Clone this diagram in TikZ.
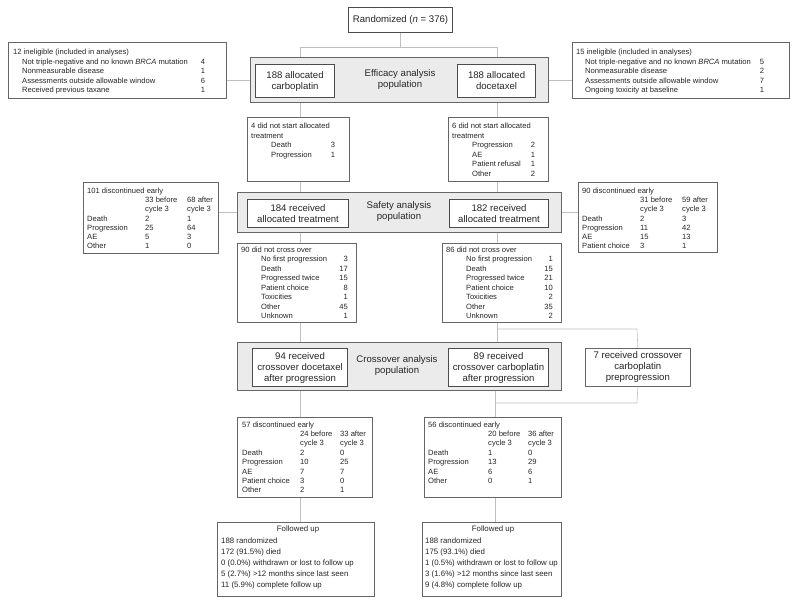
\documentclass[tikz,border=0pt]{standalone}
\usepackage{fontspec}
\setmainfont{Liberation Sans}
\newcommand\fsm{\fontsize{7.6}{9.5}\selectfont}
\newcommand\fbg{\fontsize{9.6}{11}\selectfont}
\newcommand\ffu{\fontsize{7.85}{11}\selectfont}
\newcommand\tl[4]{\node[t,anchor=mid west] (#1) at (#2,#3) {#4};}
\newcommand\tc[4]{\node[t,anchor=mid] (#1) at (#2,#3) {#4};}
\newcommand\tr[4]{\node[t,anchor=mid east] (#1) at (#2,#3) {#4};}
\newcommand\fl[4]{\node[tf,anchor=mid west] (#1) at (#2,#3) {#4};}
\newcommand\fc[4]{\node[tf,anchor=mid] (#1) at (#2,#3) {#4};}
\begin{document}
\begin{tikzpicture}[x=1pt,y=-1pt,
  t/.style={inner sep=0pt, font=\fsm, text=black!85},
  tf/.style={inner sep=0pt, font=\ffu, text=black!85},
  obox/.style={draw=black!60, line width=0.7pt, fill=white, inner sep=0pt, anchor=north west},
  panel/.style={draw=black!60, line width=0.9pt, fill=black!8, inner sep=0pt, anchor=north west},
  ibox/.style={draw=black!70, line width=1.1pt, fill=white, inner sep=0pt, anchor=north west, font=\fbg, align=center, text=black!85},
  ptext/.style={inner sep=0pt, font=\fbg, align=center, text=black!85},
  conn/.style={draw=black!25, line width=0.6pt}]
\useasboundingbox (0,0) rectangle (800,602);
\fill[white] (0,0) rectangle (800,602);

% ---------- boxes ----------
\node[ibox, minimum width=104pt, minimum height=25pt] (rand) at (348,7) {Randomized (\textit{n} = 376)};
\node[obox, minimum width=218pt, minimum height=56pt] (inelL) at (8,42) {};
\node[obox, minimum width=217pt, minimum height=56pt] (inelR) at (572,42) {};
\node[panel, minimum width=298pt, minimum height=45pt] (panE) at (250,57) {};
\node[ibox, minimum width=79pt, minimum height=33pt] (effL) at (255,64) {188 allocated\\carboplatin};
\node[ibox, minimum width=78pt, minimum height=33pt] (effR) at (457,64) {188 allocated\\docetaxel};
\node[ptext] (effT) at (400,79.5) {Efficacy analysis\\population};

\node[obox, minimum width=102pt, minimum height=64pt] (dnsL) at (247,117) {};
\node[obox, minimum width=100pt, minimum height=64pt] (dnsR) at (448,117) {};

\node[panel, minimum width=324pt, minimum height=40pt] (panS) at (237,192) {};
\node[ibox, minimum width=101pt, minimum height=28pt] (safL) at (247,199) {184 received\\allocated treatment};
\node[ibox, minimum width=99pt, minimum height=28pt] (safR) at (449,199) {182 received\\allocated treatment};
\node[ptext] (safT) at (399,212) {Safety analysis\\population};

\node[obox, minimum width=135pt, minimum height=71pt] (discL) at (83,182) {};
\node[obox, minimum width=139pt, minimum height=70pt] (discR) at (578,182) {};

\node[obox, minimum width=119pt, minimum height=79pt] (dncL) at (237,243) {};
\node[obox, minimum width=119pt, minimum height=79pt] (dncR) at (442,243) {};

\node[panel, minimum width=324pt, minimum height=48pt] (panC) at (237,342) {};
\node[ibox, minimum width=95pt, minimum height=38pt] (crL) at (252,348) {94 received\\crossover docetaxel\\after progression};
\node[ibox, minimum width=100pt, minimum height=38pt] (crR) at (448,348) {89 received\\crossover carboplatin\\after progression};
\node[ptext] (crT) at (397,366) {Crossover analysis\\population};
\node[obox, minimum width=105pt, minimum height=38pt, font=\fbg, align=center, text=black!85] (cr7) at (585,348) {7 received crossover\\carboplatin\\preprogression};

\node[obox, minimum width=135pt, minimum height=80pt] (d57) at (237,417) {};
\node[obox, minimum width=137pt, minimum height=80pt] (d56) at (424,417) {};

\node[obox, minimum width=157pt, minimum height=74pt] (fuL) at (217,522) {};
\node[obox, minimum width=139pt, minimum height=74pt] (fuR) at (422,522) {};

% ---------- connectors ----------
\coordinate (jL) at (300,47);
\coordinate (jR) at (497,47);
\coordinate (jB) at (497,329);
\coordinate (jB2) at (637,329);
\coordinate (jC) at (495,403);
\coordinate (jC2) at (637,403);
\draw[conn] (rand.south) -- (rand.south |- jL);
\draw[conn] (jL) -- (jR);
\draw[conn] (jL) -- (jL |- panE.north);
\draw[conn] (jR) -- (jR |- panE.north);
\draw[conn] (inelL.east |- panE.west) -- (panE.west);
\draw[conn] (panE.east) -- (inelR.west |- panE.east);
\draw[conn] (jL |- panE.south) -- (jL |- dnsL.north);
\draw[conn] (jR |- panE.south) -- (jR |- dnsR.north);
\draw[conn] (jL |- dnsL.south) -- (jL |- panS.north);
\draw[conn] (jR |- dnsR.south) -- (jR |- panS.north);
\draw[conn] (discL.east |- panS.west) -- (panS.west);
\draw[conn] (panS.east) -- (discR.west |- panS.east);
\draw[conn] (jL |- panS.south) -- (jL |- dncL.north);
\draw[conn] (jR |- panS.south) -- (jR |- dncR.north);
\draw[conn] (jL |- dncL.south) -- (jL |- panC.north);
\draw[conn] (jR |- dncR.south) -- (jR |- panC.north);
\draw[conn] (jB) -- (jB2) -- (cr7.north);
\draw[conn] (cr7.south) -- (jC2) -- (jC);
\draw[conn] (jL |- panC.south) -- (jL |- d57.north);
\draw[conn] (jC |- panC.south) -- (jC |- d56.north);
\draw[conn] (jL |- d57.south) -- (jL |- fuL.north);
\draw[conn] (jC |- d56.south) -- (jC |- fuR.north);

% ---------- ineligible left ----------
\tl{a0}{13}{52}{12 ineligible (included in analyses)}
\tl{a1}{22}{61.5}{Not triple-negative and no known \textit{BRCA} mutation}
\tl{a2}{22}{71}{Nonmeasurable disease}
\tl{a3}{22}{80.5}{Assessments outside allowable window}
\tl{a4}{22}{90}{Received previous taxane}
\tc{a5}{203}{61.5}{4}
\tc{a6}{203}{71}{1}
\tc{a7}{203}{80.5}{6}
\tc{a8}{203}{90}{1}
% ---------- ineligible right ----------
\tl{b0}{576}{52}{15 ineligible (included in analyses)}
\tl{b1}{585}{61.5}{Not triple-negative and no known \textit{BRCA} mutation}
\tl{b2}{585}{71}{Nonmeasurable disease}
\tl{b3}{585}{80.5}{Assessments outside allowable window}
\tl{b4}{585}{90}{Ongoing toxicity at baseline}
\tc{b5}{762}{61.5}{5}
\tc{b6}{762}{71}{2}
\tc{b7}{762}{80.5}{7}
\tc{b8}{762}{90}{1}

% ---------- did not start ----------
\tl{c0}{251}{126}{4 did not start allocated}
\tl{c1}{251}{135.5}{treatment}
\tl{c2}{271}{145}{Death}
\tl{c3}{271}{154.5}{Progression}
\tc{c4}{333}{145}{3}
\tc{c5}{333}{154.5}{1}
\tl{d0}{452}{126}{6 did not start allocated}
\tl{d1}{452}{135.5}{treatment}
\tl{d2}{472}{145}{Progression}
\tl{d3}{472}{154.5}{AE}
\tl{d4}{472}{164}{Patient refusal}
\tl{d5}{472}{173.5}{Other}
\tc{d6}{533}{145}{2}
\tc{d7}{533}{154.5}{1}
\tc{d8}{533}{164}{1}
\tc{d9}{533}{173.5}{2}

% ---------- discontinued (safety) ----------
\tl{e0}{87}{191}{101 discontinued early}
\tl{e1}{145}{200}{33 before}
\tl{e2}{145}{209}{cycle 3}
\tl{e3}{187}{200}{68 after}
\tl{e4}{187}{209}{cycle 3}
\tl{e5}{87}{218.5}{Death}
\tl{e6}{87}{227.5}{Progression}
\tl{e7}{87}{236.5}{AE}
\tl{e8}{87}{246}{Other}
\tl{e9}{145}{218.5}{2}
\tl{e10}{145}{227.5}{25}
\tl{e11}{145}{236.5}{5}
\tl{e12}{145}{246}{1}
\tl{e13}{187}{218.5}{1}
\tl{e14}{187}{227.5}{64}
\tl{e15}{187}{236.5}{3}
\tl{e16}{187}{246}{0}
\tl{f0}{582}{191}{90 discontinued early}
\tl{f1}{640}{200}{31 before}
\tl{f2}{640}{209}{cycle 3}
\tl{f3}{682}{200}{59 after}
\tl{f4}{682}{209}{cycle 3}
\tl{f5}{582}{218.5}{Death}
\tl{f6}{582}{227.5}{Progression}
\tl{f7}{582}{236.5}{AE}
\tl{f8}{582}{246}{Patient choice}
\tl{f9}{640}{218.5}{2}
\tl{f10}{640}{227.5}{11}
\tl{f11}{640}{236.5}{15}
\tl{f12}{640}{246}{3}
\tl{f13}{682}{218.5}{3}
\tl{f14}{682}{227.5}{42}
\tl{f15}{682}{236.5}{13}
\tl{f16}{682}{246}{1}

% ---------- did not cross over ----------
\tl{g0}{241}{249.5}{90 did not cross over}
\tl{g1}{261}{259}{No first progression}
\tl{g2}{261}{268.5}{Death}
\tl{g3}{261}{278}{Progressed twice}
\tl{g4}{261}{287.5}{Patient choice}
\tl{g5}{261}{297}{Toxicities}
\tl{g6}{261}{306.5}{Other}
\tl{g7}{261}{316}{Unknown}
\tr{g8}{348}{259}{3}
\tr{g9}{348}{268.5}{17}
\tr{g10}{348}{278}{15}
\tr{g11}{348}{287.5}{8}
\tr{g12}{348}{297}{1}
\tr{g13}{348}{306.5}{45}
\tr{g14}{348}{316}{1}
\tl{h0}{446}{249.5}{86 did not cross over}
\tl{h1}{466}{259}{No first progression}
\tl{h2}{466}{268.5}{Death}
\tl{h3}{466}{278}{Progressed twice}
\tl{h4}{466}{287.5}{Patient choice}
\tl{h5}{466}{297}{Toxicities}
\tl{h6}{466}{306.5}{Other}
\tl{h7}{466}{316}{Unknown}
\tr{h8}{553}{259}{1}
\tr{h9}{553}{268.5}{15}
\tr{h10}{553}{278}{21}
\tr{h11}{553}{287.5}{10}
\tr{h12}{553}{297}{2}
\tr{h13}{553}{306.5}{35}
\tr{h14}{553}{316}{2}

% ---------- discontinued (crossover) ----------
\tl{i0}{242}{425}{57 discontinued early}
\tl{i1}{300}{434}{24 before}
\tl{i2}{300}{443}{cycle 3}
\tl{i3}{340}{434}{33 after}
\tl{i4}{340}{443}{cycle 3}
\tl{i5}{242}{453}{Death}
\tl{i6}{242}{462}{Progression}
\tl{i7}{242}{471.5}{AE}
\tl{i8}{242}{481}{Patient choice}
\tl{i9}{242}{490}{Other}
\tl{i10}{300}{453}{2}
\tl{i11}{300}{462}{10}
\tl{i12}{300}{471.5}{7}
\tl{i13}{300}{481}{3}
\tl{i14}{300}{490}{2}
\tl{i15}{340}{453}{0}
\tl{i16}{340}{462}{25}
\tl{i17}{340}{471.5}{7}
\tl{i18}{340}{481}{0}
\tl{i19}{340}{490}{1}
\tl{k0}{428}{425}{56 discontinued early}
\tl{k1}{488}{434}{20 before}
\tl{k2}{488}{443}{cycle 3}
\tl{k3}{528}{434}{36 after}
\tl{k4}{528}{443}{cycle 3}
\tl{k5}{428}{453}{Death}
\tl{k6}{428}{462}{Progression}
\tl{k7}{428}{471.5}{AE}
\tl{k8}{428}{481}{Other}
\tl{k9}{488}{453}{1}
\tl{k10}{488}{462}{13}
\tl{k11}{488}{471.5}{6}
\tl{k12}{488}{481}{0}
\tl{k13}{528}{453}{0}
\tl{k14}{528}{462}{29}
\tl{k15}{528}{471.5}{6}
\tl{k16}{528}{481}{1}

% ---------- followed up ----------
\fc{m0}{298}{529}{Followed up}
\fl{m1}{221}{540.5}{188 randomized}
\fl{m2}{221}{551.5}{172 (91.5\%) died}
\fl{m3}{221}{562.5}{0 (0.0\%) withdrawn or lost to follow up}
\fl{m4}{221}{573.5}{5 (2.7\%) >12 months since last seen}
\fl{m5}{221}{584.5}{11 (5.9\%) complete follow up}
\fc{n0}{493}{529}{Followed up}
\fl{n1}{425}{540.5}{188 randomized}
\fl{n2}{425}{551.5}{175 (93.1\%) died}
\fl{n3}{425}{562.5}{1 (0.5\%) withdrawn or lost to follow up}
\fl{n4}{425}{573.5}{3 (1.6\%) >12 months since last seen}
\fl{n5}{425}{584.5}{9 (4.8\%) complete follow up}
\end{tikzpicture}
\end{document}
